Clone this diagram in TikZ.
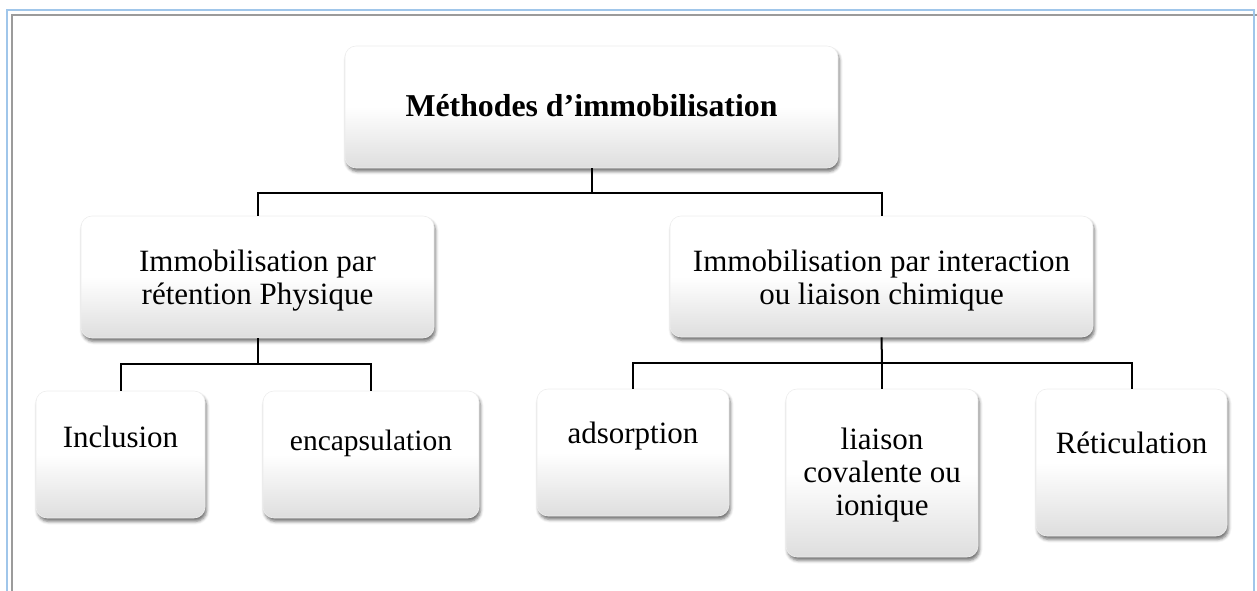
\documentclass[tikz,border=0pt]{standalone}
\usepackage{fontspec}
\setmainfont{Liberation Serif}
\usetikzlibrary{shadows.blur}
\definecolor{frameblue}{RGB}{160,198,234}
\definecolor{framegray}{RGB}{155,155,155}
\begin{document}
\begin{tikzpicture}[x=1pt,y=-1pt,
  box/.style={rounded corners=11pt, draw=black!7, line width=0.6pt,
    top color=white, bottom color=black!13, middle color=white,
    blur shadow={shadow xshift=1.5pt, shadow yshift=-3.5pt,
      shadow blur radius=3pt, shadow opacity=55},
    inner sep=0pt},
  lbl/.style={font=\fontsize{31}{33}\selectfont, align=center, anchor=base, inner sep=0pt},
  link/.style={line width=2pt, black, line join=miter}]
\useasboundingbox (0,0) rectangle (1257,591);

% page frame
\draw[framegray, line width=2pt] (12,591) -- (12,15) -- (1257,15);
\draw[frameblue, line width=2.2pt] (7,591) -- (7,10) -- (1254,10) -- (1254,591);

% boxes
\node[box, minimum width=493pt, minimum height=122pt] (top)  at (591.5,107) {};
\node[box, minimum width=353pt, minimum height=122pt] (phys) at (257.5,277) {};
\node[box, minimum width=423pt, minimum height=121pt] (chem) at (881.5,276.5) {};
\node[box, minimum width=169pt, minimum height=127pt] (inc)  at (120.5,454.5) {};
\node[box, minimum width=216pt, minimum height=127pt] (enc)  at (371,454.5) {};
\node[box, minimum width=192pt, minimum height=127pt] (ads)  at (633,452.5) {};
\node[box, minimum width=192pt, minimum height=168pt] (liai) at (882,473) {};
\node[box, minimum width=191pt, minimum height=147pt] (ret)  at (1131.5,462.5) {};

% labels (multi-line labels are placed by the baseline of their last line)
\node[lbl, font=\bfseries\fontsize{31.8}{33}\selectfont] (topT) at (591.5,117) {Méthodes d’immobilisation};
\node[lbl] (physT) at (257.5,304) {Immobilisation par\\rétention Physique};
\node[lbl] (chemT) at (881.5,304) {Immobilisation par interaction\\ou liaison chimique};
\node[lbl] (incT) at (120.5,447) {Inclusion};
\node[lbl, font=\fontsize{29.5}{33}\selectfont] (encT) at (371,450) {encapsulation};
\node[lbl] (adsT) at (633,443) {adsorption};
\node[lbl] (liaiT) at (882,515) {liaison\\covalente ou\\ionique};
\node[lbl] (retT) at (1131.5,453) {Réticulation};

% connectors
\coordinate (bus1) at (591.5,193);
\coordinate (bus2) at (257.5,364);
\coordinate (bus3) at (882,363);
\draw[link] (top.south) -- (bus1);
\draw[link] (phys.north) |- (bus1) -| (chem.north);
\draw[link] (phys.south) -- (bus2);
\draw[link] (inc.north) |- (bus2) -| (enc.north);
\draw[link] (chem.south) -- (bus3);
\draw[link] (ads.north) |- (bus3) -| (ret.north);
\draw[link] (bus3) -- (liai.north);
\end{tikzpicture}
\end{document}
